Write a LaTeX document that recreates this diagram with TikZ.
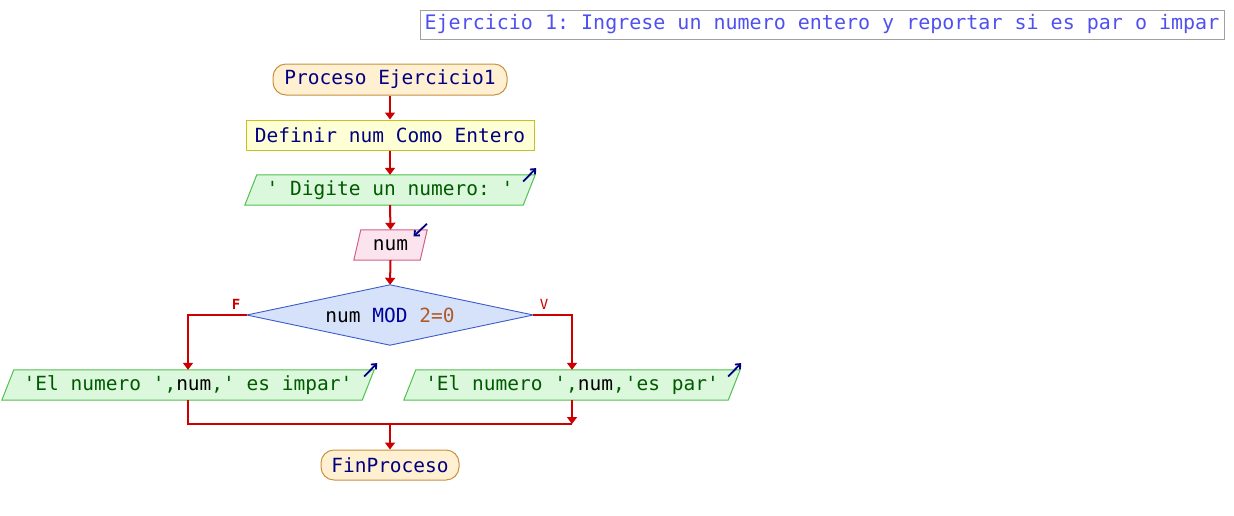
\documentclass[tikz,border=0pt]{standalone}
\usepackage{fontspec}
\setmonofont{DejaVu Sans Mono}
\usetikzlibrary{arrows.meta,shapes.geometric,calc}
\definecolor{arrred}{HTML}{CC0000}
\definecolor{termfill}{HTML}{FFF0D2}
\definecolor{termdraw}{HTML}{C89040}
\definecolor{deffill}{HTML}{FFFFD6}
\definecolor{defdraw}{HTML}{C8C020}
\definecolor{outfill}{HTML}{DCF8DC}
\definecolor{outdraw}{HTML}{50C050}
\definecolor{outtext}{HTML}{005A00}
\definecolor{infill}{HTML}{FCE4EE}
\definecolor{indraw}{HTML}{D06088}
\definecolor{decfill}{HTML}{D6E2FA}
\definecolor{decdraw}{HTML}{3C5CC8}
\definecolor{navy}{HTML}{000080}
\definecolor{modblue}{HTML}{00009C}
\definecolor{numbrown}{HTML}{B05A28}
\definecolor{titleblue}{HTML}{5050F0}
\definecolor{titledraw}{HTML}{A0A0A0}
\definecolor{icon}{HTML}{000080}
\tikzset{
  base/.style={font=\ttfamily\fontsize{19.5}{20}\selectfont, inner sep=0pt, minimum height=30pt},
  term/.style={base, draw=termdraw, fill=termfill, line width=1pt, rounded corners=13pt, text=navy},
  defbox/.style={base, draw=defdraw, fill=deffill, line width=1pt, text=navy},
  iotext/.style={base},
  decbox/.style={base, minimum width=286pt, minimum height=60pt},
  decshape/.style={draw=decdraw, fill=decfill, line width=0.9pt},
  arr/.style={draw=arrred, line width=2pt, -{Triangle[width=10pt,length=7pt]}},
  plain/.style={draw=arrred, line width=2pt},
  iconarr/.style={draw=icon, line width=1.8pt, -{Straight Barb[length=4pt,width=7pt]}},
  lab/.style={text=arrred, font=\ttfamily\bfseries\fontsize{14}{14}\selectfont, inner sep=0pt},
  outpara/.style={draw=outdraw, fill=outfill, line width=1pt},
  inpara/.style={draw=indraw, fill=infill, line width=1pt}
}
\begin{document}
\begin{tikzpicture}[x=1pt,y=-1pt]
\useasboundingbox (0,0) rectangle (1234,515);
% title
\node[draw=titledraw, line width=1pt, inner sep=0pt, minimum width=804pt, minimum height=29pt,
      text=titleblue, font=\ttfamily\fontsize{20}{20}\selectfont] (title) at (822,24.5)
      {Ejercicio 1:\ Ingrese un numero entero y reportar si es par o impar};
% start
\node[term, minimum width=234pt, minimum height=31pt] (start) at (390,79.5) {Proceso Ejercicio1};
% define
\node[defbox, minimum width=288pt] (def) at (390,135) {Definir num Como Entero};
% output prompt
\node[iotext, minimum width=278pt] (dig) at (390,190) {};
\path[outpara] ($(dig.south west)+(-6,0)$) -- ($(dig.north west)+(6,0)$) -- ($(dig.north east)+(6,0)$) -- ($(dig.south east)+(-6,0)$) -- cycle;
\node[iotext, text=outtext] at (dig.center) {' Digite un numero: '};
\draw[iconarr] ($(dig.north east)+(-6,6.7)$) -- ($(dig.north east)+(7,-6.7)$);
% input
\node[iotext, minimum width=66pt] (num) at (390.5,245) {};
\path[inpara] ($(num.south west)+(-3.5,0)$) -- ($(num.north west)+(3.5,0)$) -- ($(num.north east)+(3.5,0)$) -- ($(num.south east)+(-3.5,0)$) -- cycle;
\node[iotext, text=black] at (num.center) {num};
\draw[iconarr] ($(num.north east)+(3.2,-6)$) -- ($(num.north east)+(-10.2,6.7)$);
% decision
\node[decbox] (dec) at (390,315) {};
\path[decshape] (dec.west) -- (dec.north) -- (dec.east) -- (dec.south) -- cycle;
\node[iotext] at (dec.center) {\textcolor{black}{num} \textcolor{modblue}{MOD} \textcolor{numbrown}{2=0}};
% false branch output
\node[iotext, minimum width=360pt] (outF) at (188,385) {};
\path[outpara] ($(outF.south west)+(-6,0)$) -- ($(outF.north west)+(6,0)$) -- ($(outF.north east)+(6,0)$) -- ($(outF.south east)+(-6,0)$) -- cycle;
\node[iotext, text=outtext] at (outF.center) {'El numero ',\textcolor{black}{num},' es impar'};
\draw[iconarr] ($(outF.north east)+(-4,6.7)$) -- ($(outF.north east)+(9,-6.7)$);
% true branch output
\node[iotext, minimum width=324pt] (outV) at (572,385) {};
\path[outpara] ($(outV.south west)+(-6,0)$) -- ($(outV.north west)+(6,0)$) -- ($(outV.north east)+(6,0)$) -- ($(outV.south east)+(-6,0)$) -- cycle;
\node[iotext, text=outtext] at (outV.center) {'El numero ',\textcolor{black}{num},'es par'};
\draw[iconarr] ($(outV.north east)+(-6,6.7)$) -- ($(outV.north east)+(7,-6.7)$);
% end
\node[term, minimum width=138pt] (fin) at (390,465) {FinProceso};
% connectors
\draw[arr] (start.south) -- (def.north);
\draw[arr] (def.south) -- (dig.north);
\draw[arr] (dig.south) -- (num.north);
\draw[arr] (num.south) -- (dec.north);
\draw[arr] (dec.west) -| (outF.north);
\draw[arr] (dec.east) -| (outV.north);
\node[lab] (labF) at (236,304) {F};
\node[lab, font=\ttfamily\fontsize{14}{14}\selectfont] (labV) at (544,304) {V};
\coordinate (mL) at (188,424);
\coordinate (mR) at (572,424);
\coordinate (mC) at (390,424);
\draw[plain] (outF.south) -- (mL) -- (mR);
\draw[arr] (outV.south) -- (mR);
\draw[arr] (mC) -- (fin.north);
\end{tikzpicture}
\end{document}
